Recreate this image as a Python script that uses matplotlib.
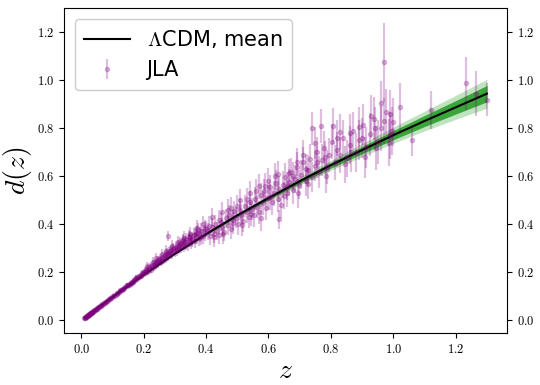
import numpy as np
import matplotlib
matplotlib.use('Agg')
import matplotlib.pyplot as plt
from matplotlib.ticker import FuncFormatter, MultipleLocator

plt.rcParams['mathtext.fontset'] = 'cm'

# LCDM mean curve and band half-widths
z_model = [0.01, 0.1, 0.2, 0.3, 0.4, 0.5, 0.6, 0.7, 0.8, 0.9, 1.0, 1.1, 1.2, 1.3]
d_model = [0.01, 0.097, 0.19, 0.278, 0.36, 0.438, 0.51, 0.58, 0.647, 0.71, 0.772, 0.831, 0.888, 0.945]
band_outer = [0.0, 0.001, 0.002, 0.004, 0.006, 0.009, 0.012, 0.016, 0.021, 0.027, 0.034, 0.041, 0.05, 0.06]
band_inner = [0.0, 0.0005, 0.001, 0.002, 0.003, 0.005, 0.007, 0.009, 0.012, 0.015, 0.019, 0.023, 0.028, 0.034]

# JLA supernovae: redshift, distance, error
z_jla = [
    0.010, 0.012, 0.014, 0.015, 0.016, 0.017, 0.019, 0.021, 0.023, 0.024, 0.026, 0.028, 0.029, 0.031,
    0.033, 0.035, 0.037, 0.040, 0.043, 0.046, 0.049, 0.052, 0.055, 0.058, 0.061, 0.064, 0.068, 0.072,
    0.075, 0.079, 0.083, 0.087, 0.091, 0.095, 0.098,
    0.011, 0.013, 0.018, 0.020, 0.022, 0.025, 0.027, 0.030, 0.032, 0.034, 0.038, 0.042, 0.045, 0.050,
    0.056, 0.062, 0.066, 0.070, 0.077, 0.081, 0.089, 0.093,
    0.102, 0.106, 0.110, 0.113, 0.117, 0.120, 0.124, 0.127, 0.131, 0.134, 0.138, 0.141, 0.145, 0.148,
    0.152, 0.155, 0.159, 0.162, 0.166, 0.169, 0.173, 0.176, 0.180, 0.183, 0.187, 0.190, 0.194, 0.197,
    0.201, 0.204, 0.208, 0.211, 0.215, 0.218, 0.222, 0.225, 0.229, 0.232, 0.236, 0.239, 0.243, 0.246,
    0.250, 0.253, 0.257, 0.260, 0.264, 0.267, 0.271, 0.274, 0.278, 0.281, 0.285, 0.288, 0.292, 0.295,
    0.299, 0.302, 0.306, 0.309, 0.313, 0.316, 0.320, 0.323, 0.327, 0.330, 0.334, 0.337, 0.341, 0.344,
    0.348, 0.352, 0.356, 0.360, 0.364, 0.368, 0.372, 0.376, 0.380, 0.385, 0.390, 0.395, 0.400,
    0.105, 0.115, 0.125, 0.135, 0.145, 0.155, 0.165, 0.175, 0.185, 0.195, 0.205, 0.215, 0.225, 0.235,
    0.245, 0.255, 0.265, 0.275, 0.278, 0.285, 0.295, 0.305, 0.315, 0.325, 0.335, 0.345, 0.355, 0.365,
    0.375, 0.385, 0.395,
    0.405, 0.412, 0.418, 0.424, 0.430, 0.436, 0.441, 0.447, 0.452, 0.458, 0.463, 0.469, 0.474, 0.480,
    0.486, 0.491, 0.497, 0.502, 0.508, 0.513, 0.519, 0.525, 0.530, 0.536, 0.541, 0.547, 0.553, 0.558,
    0.564, 0.570, 0.576, 0.581, 0.587, 0.593, 0.599, 0.605, 0.611, 0.617, 0.623, 0.629, 0.635, 0.641,
    0.647, 0.653, 0.660, 0.666, 0.672, 0.679, 0.685, 0.692, 0.698, 0.705, 0.712, 0.719, 0.726, 0.733,
    0.740, 0.748, 0.755, 0.763, 0.771, 0.779, 0.787, 0.795, 0.803, 0.812, 0.821, 0.830, 0.840, 0.850,
    0.860, 0.870, 0.880, 0.891, 0.902, 0.914, 0.926, 0.938, 0.950, 0.962, 0.975, 0.988, 1.000,
    0.410, 0.425, 0.440, 0.455, 0.470, 0.485, 0.500, 0.515, 0.530, 0.545, 0.560, 0.575, 0.590, 0.605,
    0.620, 0.634, 0.650, 0.665, 0.680, 0.695, 0.710, 0.725, 0.741, 0.755, 0.767, 0.785, 0.808, 0.829,
    0.845, 0.865, 0.890, 0.910, 0.928, 0.945, 0.960, 0.971, 0.985, 0.995,
    0.210, 0.230, 0.240, 0.260, 0.270, 0.290, 0.310, 0.330, 0.350, 0.370, 0.390, 0.420, 0.450, 0.480,
    0.510, 0.540, 0.570, 0.600, 0.630, 0.660, 0.690, 0.720, 0.750, 0.780, 0.820, 0.860, 0.900, 0.940,
    0.970, 0.990,
    1.020, 1.059, 1.120, 1.232, 1.266, 1.300,
]
d_jla = [
    0.0101, 0.0118, 0.0141, 0.0149, 0.0162, 0.0168, 0.0190, 0.0208, 0.0231, 0.0236, 0.0262, 0.0274, 0.0293, 0.0305,
    0.0329, 0.0348, 0.0362, 0.0398, 0.0424, 0.0457, 0.0481, 0.0517, 0.0541, 0.0578, 0.0596, 0.0638, 0.0665, 0.0712,
    0.0738, 0.0772, 0.0818, 0.0849, 0.0893, 0.0924, 0.0962,
    0.0112, 0.0128, 0.0181, 0.0197, 0.0222, 0.0247, 0.0271, 0.0296, 0.0318, 0.0341, 0.0378, 0.0417, 0.0444, 0.0495,
    0.0556, 0.0614, 0.0650, 0.0693, 0.0761, 0.0798, 0.0875, 0.0916,
    0.101, 0.104, 0.108, 0.112, 0.113, 0.119, 0.121, 0.126, 0.128, 0.133, 0.134, 0.139, 0.143, 0.148,
    0.146, 0.153, 0.158, 0.157, 0.166, 0.164, 0.172, 0.176, 0.174, 0.183, 0.186, 0.184, 0.195, 0.192,
    0.200, 0.198, 0.212, 0.203, 0.215, 0.222, 0.212, 0.226, 0.233, 0.221, 0.240, 0.232, 0.245, 0.238,
    0.251, 0.258, 0.244, 0.263, 0.255, 0.272, 0.262, 0.281, 0.268, 0.285, 0.276, 0.293, 0.280, 0.300,
    0.288, 0.306, 0.292, 0.312, 0.301, 0.322, 0.306, 0.318, 0.331, 0.311, 0.326, 0.339, 0.318, 0.335,
    0.346, 0.326, 0.341, 0.355, 0.333, 0.350, 0.364, 0.342, 0.358, 0.372, 0.350, 0.366, 0.380,
    0.100, 0.114, 0.125, 0.130, 0.147, 0.150, 0.161, 0.178, 0.180, 0.198, 0.207, 0.208, 0.219, 0.236,
    0.252, 0.248, 0.266, 0.276, 0.352, 0.290, 0.296, 0.299, 0.316, 0.336, 0.320, 0.350, 0.337, 0.359,
    0.377, 0.348, 0.385,
    0.372, 0.351, 0.389, 0.360, 0.401, 0.372, 0.355, 0.412, 0.389, 0.370, 0.425, 0.398, 0.440, 0.381,
    0.418, 0.455, 0.428, 0.400, 0.462, 0.440, 0.413, 0.478, 0.452, 0.430, 0.492, 0.465, 0.438, 0.508,
    0.474, 0.450, 0.522, 0.489, 0.540, 0.470, 0.512, 0.555, 0.492, 0.530, 0.574, 0.505, 0.548, 0.480,
    0.565, 0.598, 0.530, 0.575, 0.620, 0.545, 0.590, 0.640, 0.565, 0.607, 0.660, 0.580, 0.625, 0.672,
    0.598, 0.645, 0.700, 0.618, 0.668, 0.720, 0.640, 0.690, 0.745, 0.660, 0.712, 0.690, 0.760, 0.675,
    0.732, 0.790, 0.700, 0.752, 0.815, 0.722, 0.775, 0.840, 0.745, 0.800, 0.870, 0.772, 0.825,
    0.395, 0.347, 0.418, 0.360, 0.462, 0.405, 0.475, 0.398, 0.505, 0.445, 0.540, 0.425, 0.560, 0.515,
    0.600, 0.421, 0.520, 0.615, 0.600, 0.530, 0.690, 0.570, 0.800, 0.660, 0.810, 0.600, 0.810, 0.785,
    0.650, 0.700, 0.805, 0.680, 0.850, 0.720, 0.904, 1.075, 0.740, 0.790,
    0.225, 0.245, 0.260, 0.275, 0.290, 0.310, 0.325, 0.345, 0.360, 0.385, 0.400, 0.430, 0.450, 0.470,
    0.500, 0.530, 0.560, 0.580, 0.610, 0.560, 0.660, 0.630, 0.740, 0.680, 0.760, 0.780, 0.760, 0.800,
    0.830, 0.860,
    0.890, 0.750, 0.877, 0.988, 0.945, 0.920,
]
err_jla = [
    0.001, 0.001, 0.001, 0.001, 0.001, 0.001, 0.001, 0.001, 0.002, 0.002, 0.002, 0.002, 0.002, 0.002,
    0.002, 0.002, 0.002, 0.002, 0.002, 0.003, 0.003, 0.003, 0.003, 0.003, 0.003, 0.003, 0.003, 0.004,
    0.004, 0.004, 0.004, 0.004, 0.005, 0.005, 0.005,
    0.001, 0.001, 0.001, 0.001, 0.002, 0.002, 0.002, 0.002, 0.002, 0.002, 0.002, 0.002, 0.003, 0.003,
    0.003, 0.003, 0.003, 0.004, 0.004, 0.004, 0.005, 0.005,
    0.006, 0.006, 0.007, 0.006, 0.007, 0.007, 0.008, 0.007, 0.008, 0.008, 0.008, 0.009, 0.009, 0.009,
    0.009, 0.010, 0.010, 0.010, 0.011, 0.011, 0.011, 0.012, 0.012, 0.012, 0.013, 0.013, 0.013, 0.014,
    0.014, 0.014, 0.015, 0.015, 0.015, 0.016, 0.016, 0.016, 0.017, 0.017, 0.017, 0.018, 0.018, 0.018,
    0.019, 0.019, 0.019, 0.020, 0.020, 0.020, 0.021, 0.021, 0.021, 0.022, 0.022, 0.022, 0.023, 0.023,
    0.023, 0.024, 0.024, 0.024, 0.025, 0.025, 0.025, 0.026, 0.026, 0.026, 0.027, 0.027, 0.027, 0.028,
    0.028, 0.028, 0.029, 0.029, 0.030, 0.030, 0.030, 0.031, 0.031, 0.032, 0.032, 0.033, 0.033,
    0.006, 0.007, 0.007, 0.008, 0.009, 0.010, 0.010, 0.011, 0.012, 0.013, 0.014, 0.015, 0.016, 0.017,
    0.018, 0.019, 0.020, 0.021, 0.022, 0.022, 0.023, 0.024, 0.025, 0.026, 0.027, 0.028, 0.029, 0.030,
    0.031, 0.032, 0.033,
    0.035, 0.035, 0.036, 0.036, 0.037, 0.037, 0.038, 0.038, 0.039, 0.039, 0.040, 0.040, 0.041, 0.041,
    0.042, 0.042, 0.043, 0.043, 0.044, 0.044, 0.045, 0.045, 0.046, 0.046, 0.047, 0.047, 0.048, 0.048,
    0.049, 0.049, 0.050, 0.050, 0.051, 0.051, 0.052, 0.052, 0.053, 0.053, 0.054, 0.054, 0.055, 0.055,
    0.056, 0.056, 0.057, 0.057, 0.058, 0.058, 0.059, 0.060, 0.060, 0.061, 0.062, 0.062, 0.063, 0.064,
    0.064, 0.065, 0.066, 0.067, 0.068, 0.069, 0.070, 0.071, 0.072, 0.073, 0.074, 0.075, 0.076, 0.078,
    0.079, 0.080, 0.082, 0.083, 0.085, 0.086, 0.088, 0.090, 0.092, 0.094, 0.096, 0.098, 0.100,
    0.040, 0.040, 0.042, 0.042, 0.044, 0.045, 0.046, 0.047, 0.048, 0.050, 0.050, 0.052, 0.053, 0.054,
    0.055, 0.040, 0.057, 0.058, 0.060, 0.061, 0.063, 0.064, 0.070, 0.066, 0.072, 0.068, 0.075, 0.076,
    0.078, 0.080, 0.083, 0.085, 0.090, 0.092, 0.095, 0.165, 0.098, 0.100,
    0.020, 0.020, 0.022, 0.022, 0.024, 0.025, 0.026, 0.028, 0.030, 0.032, 0.034, 0.040, 0.042, 0.045,
    0.047, 0.050, 0.052, 0.055, 0.056, 0.058, 0.060, 0.062, 0.066, 0.068, 0.074, 0.080, 0.085, 0.090,
    0.095, 0.100,
    0.100, 0.065, 0.080, 0.110, 0.095, 0.070,
]

z_m = np.array(z_model)
d_m = np.array(d_model)
b_out = np.array(band_outer)
b_in = np.array(band_inner)

fig = plt.figure(figsize=(5.4, 3.85), dpi=100)
ax = fig.add_axes([0.119, 0.135, 0.82, 0.844])

ax.fill_between(z_m, d_m - b_out, d_m + b_out, color='#2ca02c', alpha=0.3, lw=0)
ax.fill_between(z_m, d_m - b_in, d_m + b_in, color='#2ca02c', alpha=0.9, lw=0)

eb = ax.errorbar(z_jla, d_jla, yerr=err_jla, fmt='o', color='purple', ms=3,
                 elinewidth=1.6, alpha=0.25, label='JLA')
line, = ax.plot(z_m, d_m, color='black', lw=1.5, label=r'$\Lambda$CDM, mean')

ax.legend(handles=[line, eb], loc='upper left', fontsize=15, framealpha=1,
          handlelength=2.2, borderpad=0.45, labelspacing=0.5)

ax.set_xlabel('$z$', fontsize=20, labelpad=0)
ax.set_ylabel('$d(z)$', fontsize=20, labelpad=2)
ax.xaxis.set_major_locator(MultipleLocator(0.2))
ax.yaxis.set_major_locator(MultipleLocator(0.2))
fmt = FuncFormatter(lambda v, p: '$%.1f$' % v)
ax.xaxis.set_major_formatter(fmt)
ax.yaxis.set_major_formatter(fmt)
ax.tick_params(labelsize=9, right=True, labelright=True)

fig.savefig('out.png', dpi=100)
